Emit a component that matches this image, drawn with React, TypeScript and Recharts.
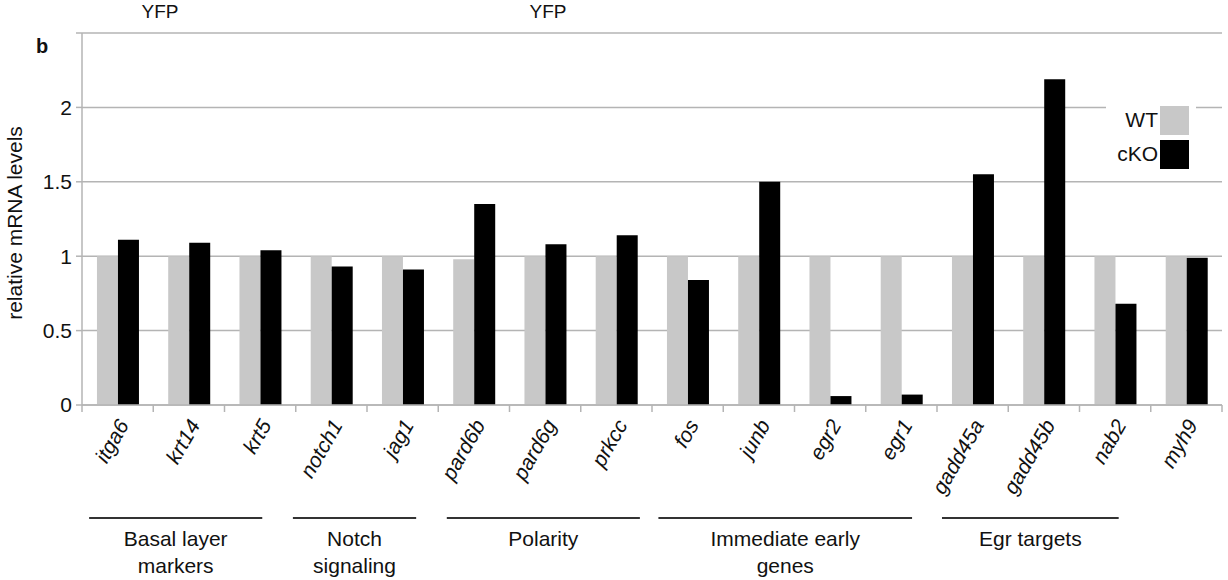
import React from 'react';
import {
  BarChart,
  Bar,
  XAxis,
  YAxis,
  CartesianGrid,
} from 'recharts';

const genes = [
  'itga6', 'krt14', 'krt5', 'notch1', 'jag1', 'pard6b', 'pard6g', 'prkcc',
  'fos', 'junb', 'egr2', 'egr1', 'gadd45a', 'gadd45b', 'nab2', 'myh9',
];
const wtValues = [1, 1, 1, 1, 1, 0.98, 1, 1, 1, 1, 1, 1, 1, 1, 1, 1];
const ckoValues = [
  1.11, 1.09, 1.04, 0.93, 0.91, 1.35, 1.08, 1.14,
  0.84, 1.5, 0.06, 0.07, 1.55, 2.19, 0.68, 0.99,
];
const yTicks = [0, 0.5, 1, 1.5, 2, 2.5];

// gene groups under the axis, in category units (start, end)
const groupNames = [
  ['Basal layer', 'markers'],
  ['Notch', 'signaling'],
  ['Polarity'],
  ['Immediate early', 'genes'],
  ['Egr targets'],
];
const groupSpans = [
  [0.1, 2.53],
  [2.96, 4.69],
  [5.12, 7.83],
  [8.09, 11.65],
  [12.07, 14.55],
];

const data = genes.map((g, i) => ({ gene: g, WT: wtValues[i], cKO: ckoValues[i] }));

const W = 1228;
const H = 580;
const PLOT_LEFT = 82;
const PLOT_RIGHT = 6;
const PLOT_TOP = 33;
const X_AXIS_H = 175;
const PLOT_W = W - PLOT_LEFT - PLOT_RIGHT;
const BAND = PLOT_W / genes.length;
const FONT = '"Liberation Sans", Arial, Helvetica, sans-serif';
const GRID = '#b4b4b4';
const TXT = '#111';

const GeneTick = (props: any) => {
  const { x, payload, index } = props;
  const half = payload.offset || BAND / 2;
  const y0 = H - X_AXIS_H;
  const tx = x + 12;
  const ty = y0 + 20;
  return (
    <g>
      <line x1={x - half} y1={y0} x2={x - half} y2={y0 + 7} stroke={GRID} strokeWidth={1.5} />
      {index === genes.length - 1 && (
        <line x1={x + half} y1={y0} x2={x + half} y2={y0 + 7} stroke={GRID} strokeWidth={1.5} />
      )}
      <text
        x={tx}
        y={ty}
        transform={`rotate(-60 ${tx} ${ty})`}
        textAnchor="end"
        fontSize={21}
        fontStyle="italic"
        fontFamily={FONT}
        fill={TXT}
      >
        {payload.value}
      </text>
    </g>
  );
};

const legendItems = [
  ['WT', '#c8c8c8'],
  ['cKO', '#000'],
];

export default function App() {
  const lineY = 518;
  return (
    <div style={{ position: 'absolute', left: 0, top: 0, width: W, height: H, background: '#fff' }}>
      <BarChart
        width={W}
        height={H}
        data={data}
        margin={{ top: PLOT_TOP, right: PLOT_RIGHT, left: 0, bottom: 0 }}
        barCategoryGap="21%"
        barGap={0}
      >
        <CartesianGrid vertical={false} stroke={GRID} strokeWidth={1.5} />
        <XAxis
          dataKey="gene"
          height={X_AXIS_H}
          interval={0}
          stroke={GRID}
          strokeWidth={1.5}
          tickLine={false}
          tick={<GeneTick />}
        />
        <YAxis
          width={PLOT_LEFT}
          domain={[0, 2.5]}
          ticks={yTicks}
          interval={0}
          stroke={GRID}
          strokeWidth={1.5}
          tickSize={6}
          tickMargin={4}
          tickFormatter={(v: number) => (v === 2.5 ? '' : String(v))}
          tick={{ fill: TXT, fontSize: 21, fontFamily: FONT }}
        />
        <Bar dataKey="WT" fill="#c8c8c8" isAnimationActive={false} />
        <Bar dataKey="cKO" fill="#000" isAnimationActive={false} />
      </BarChart>
      <div
        style={{
          position: 'absolute',
          left: 1106,
          top: 100,
          width: 90,
          background: '#fff',
          fontFamily: FONT,
          fontSize: 21,
          color: TXT,
          padding: '3px 0',
        }}
      >
        {legendItems.map(([name, color]) => (
          <div key={name} style={{ display: 'flex', justifyContent: 'flex-end', alignItems: 'center', height: 34 }}>
            <span style={{ marginRight: 2 }}>{name}</span>
            <span style={{ width: 29, height: 29, background: color, display: 'inline-block', marginRight: 7 }} />
          </div>
        ))}
      </div>
      <svg
        width={W}
        height={H}
        style={{ position: 'absolute', left: 0, top: 0, pointerEvents: 'none' }}
        fontFamily={FONT}
      >
        <text x={160} y={18} textAnchor="middle" fontSize={19} fill={TXT}>YFP</text>
        <text x={548} y={18} textAnchor="middle" fontSize={19} fill={TXT}>YFP</text>
        <text x={36} y={53} fontSize={20} fontWeight="bold" fill={TXT}>b</text>
        <text
          x={22}
          y={223}
          transform="rotate(-90 22 223)"
          textAnchor="middle"
          fontSize={21}
          fill={TXT}
        >
          relative mRNA levels
        </text>
        {groupNames.map((lines, gi) => {
          const x1 = PLOT_LEFT + groupSpans[gi][0] * BAND;
          const x2 = PLOT_LEFT + groupSpans[gi][1] * BAND;
          const cx = (x1 + x2) / 2;
          return (
            <g key={gi}>
              <line x1={x1} y1={lineY} x2={x2} y2={lineY} stroke="#333" strokeWidth={2} />
              {lines.map((t, li) => (
                <text key={li} x={cx} y={546 + li * 27} textAnchor="middle" fontSize={21} fill={TXT}>
                  {t}
                </text>
              ))}
            </g>
          );
        })}
      </svg>
    </div>
  );
}
